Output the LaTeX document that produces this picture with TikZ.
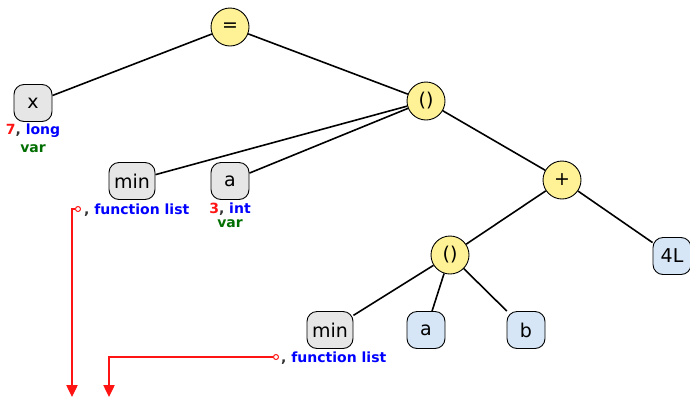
\documentclass[tikz,border=0pt]{standalone}
\usepackage{fontspec}
\setmainfont{DejaVu Sans}
\usetikzlibrary{arrows.meta}
\definecolor{opfill}{RGB}{255,242,150}
\definecolor{grayfill}{RGB}{230,230,230}
\definecolor{bluefill}{RGB}{214,230,246}
\definecolor{lblred}{RGB}{255,20,20}
\definecolor{lblblue}{RGB}{0,0,255}
\definecolor{lblgreen}{RGB}{0,110,0}
\tikzset{
  op/.style={circle, draw=black, line width=0.9pt, fill=opfill, minimum size=38pt, inner sep=0pt, font=\fontsize{19}{19}\selectfont},
  leafbox/.style={rounded corners=10pt, draw=black, line width=0.9pt, minimum height=37pt, minimum width=38pt, inner sep=2pt, font=\fontsize{19}{19}\selectfont},
  grayleaf/.style={leafbox, fill=grayfill},
  blueleaf/.style={leafbox, fill=bluefill},
  edge/.style={line width=1.6pt, black},
  lbl/.style={font=\bfseries\fontsize{14}{15}\selectfont, inner sep=0pt},
  ptr/.style={line width=2.4pt, lblred, -{Triangle[length=12pt,width=11pt]}},
  ptrdot/.style={circle, draw=lblred, fill=white, line width=1pt, minimum size=5pt, inner sep=0pt}
}
\begin{document}
\begin{tikzpicture}[x=1pt,y=-1pt]
\useasboundingbox (0,0) rectangle (690,397);
\node[op] (eq) at (230,27) {=};
\node[grayleaf] (x) at (33,103) {x};
\node[op] (call1) at (426,101) {()};
\node[grayleaf, minimum width=46pt] (min1) at (132,181) {min};
\node[grayleaf] (a1) at (230,181) {a};
\node[op] (plus) at (562,180) {+};
\node[blueleaf] (four) at (672,256) {4L};
\node[op] (call2) at (450,255) {()};
\node[grayleaf, minimum width=46pt] (min2) at (330,330) {min};
\node[blueleaf] (a2) at (426,330) {a};
\node[blueleaf] (b2) at (526,330) {b};

\node[lbl] (xl1) at (33,131) {\textcolor{lblred}{7}\textcolor{black!80}{,} \textcolor{lblblue}{long}};
\node[lbl] (xl2) at (33,149) {\textcolor{lblgreen}{var}};
\node[lbl] (al1) at (230,209) {\textcolor{lblred}{3}\textcolor{black!80}{,} \textcolor{lblblue}{int}};
\node[lbl] (al2) at (230,224) {\textcolor{lblgreen}{var}};
\node[lbl, anchor=west] (fl1) at (84,210) {\textcolor{black!80}{,} \textcolor{lblblue}{function list}};
\node[lbl, anchor=west] (fl2) at (281,358) {\textcolor{black!80}{,} \textcolor{lblblue}{function list}};

\node[ptrdot] (d1) at (78,209) {};
\node[ptrdot] (d2) at (276,357) {};
\coordinate (e1) at (72,397);
\coordinate (e2) at (109,397);
\draw[ptr] (d1.west) -| (e1);
\draw[ptr] (d2.west) -| (e2);

\draw[edge] (eq) -- (x);
\draw[edge] (eq) -- (call1);
\draw[edge] (call1) -- (min1);
\draw[edge] (call1) -- (a1);
\draw[edge] (call1) -- (plus);
\draw[edge] (plus) -- (call2);
\draw[edge] (plus) -- (four);
\draw[edge] (call2) -- (min2);
\draw[edge] (call2) -- (a2);
\draw[edge] (call2) -- (b2);
\end{tikzpicture}
\end{document}
